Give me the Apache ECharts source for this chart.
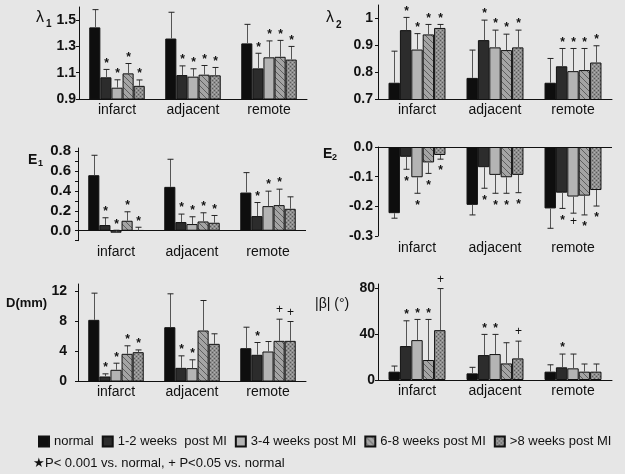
<!DOCTYPE html>
<html><head><meta charset="utf-8">
<script src="https://cdn.jsdelivr.net/npm/echarts@6/dist/echarts.min.js"></script>
<style>html,body{margin:0;padding:0;background:#e6e6e6}#c{width:625px;height:474px}</style>
</head><body><div id="c"></div><script>
// ---------- data ----------
const categories = ['infarct', 'adjacent', 'remote'];
const seriesNames = ['normal', '1-2 weeks  post MI', '3-4 weeks post MI', '6-8 weeks post MI', '>8 weeks post MI'];

// rows: series (normal, 1-2, 3-4, 6-8, >8); columns: infarct, adjacent, remote
const lambda1Mean = [[1.445, 1.36, 1.323], [1.065, 1.082, 1.133], [0.986, 1.07, 1.217], [1.095, 1.085, 1.221], [1.0, 1.08, 1.2]];
const lambda1SD   = [[0.135, 0.2, 0.145], [0.06, 0.07, 0.115], [0.06, 0.06, 0.125], [0.075, 0.07, 0.125], [0.045, 0.06, 0.1]];
const lambda1Sig  = [['*', '*', '*'], ['*', '*', '*'], ['*', '*', '*'], ['*', '*', '*']];
const lambda1Ticks = ['0.9', '1.1', '1.3', '1.5'];

const lambda2Mean = [[0.762, 0.78, 0.762], [0.957, 0.92, 0.823], [0.885, 0.893, 0.805], [0.941, 0.883, 0.809], [0.965, 0.893, 0.837]];
const lambda2SD   = [[0.117, 0.103, 0.09], [0.047, 0.074, 0.066], [0.059, 0.064, 0.084], [0.037, 0.059, 0.08], [0.013, 0.064, 0.062]];
const lambda2Sig  = [['*', '*', '*'], ['*', '*', '*'], ['*', '*', '*'], ['*', '*', '*']];
const lambda2Ticks = ['0.7', '0.8', '0.9', '1'];

const e1Mean = [[0.557, 0.44, 0.383], [0.057, 0.087, 0.147], [-0.02, 0.067, 0.247], [0.1, 0.093, 0.257], [0.005, 0.08, 0.22]];
const e1SD   = [[0.2, 0.277, 0.2], [0.073, 0.08, 0.136], [0.025, 0.073, 0.15], [0.09, 0.087, 0.16], [0.03, 0.073, 0.12]];
const e1Sig  = [['*', '*', '*'], ['*', '*', '*'], ['*', '*', '*'], ['*', '*', '']];
const e1Ticks = ['0.0', '0.2', '0.4', '0.6', '0.8'];

const e2Mean = [[-0.223, -0.195, -0.207], [-0.033, -0.068, -0.154], [-0.102, -0.094, -0.167], [-0.052, -0.102, -0.164], [-0.027, -0.094, -0.145]];
const e2SD   = [[0.017, 0.034, 0.067], [0.042, 0.071, 0.053], [0.054, 0.062, 0.056], [0.037, 0.054, 0.065], [0.014, 0.06, 0.054]];
const e2Sig  = [['*', '*', '*'], ['*', '*', '+'], ['*', '*', '*'], ['*', '*', '*']];
const e2Ticks = ['-0.3', '-0.2', '-0.1', '0.0'];

const dMean = [[8.22, 7.24, 4.44], [0.67, 1.82, 3.56], [1.56, 1.78, 4.0], [3.69, 6.8, 5.42], [3.91, 5.02, 5.42]];
const dSD   = [[3.56, 4.45, 2.8], [0.35, 1.6, 1.64], [0.88, 1.11, 1.33], [1.07, 4.0, 2.89], [0.3, 1.34, 2.58]];
const dSig  = [['*', '*', '*'], ['*', '*', ''], ['*', '', '+'], ['*', '', '+']];
const dTicks = ['0', '4', '8', '12'];

const betaMean = [[7.3, 5.8, 7.3], [29.7, 21.8, 11.1], [34.9, 22.7, 10.2], [17.5, 14.5, 7.3], [43.6, 18.9, 7.3]];
const betaSD   = [[4.9, 5.3, 6.0], [22.1, 18.1, 11.6], [18.1, 17.2, 12.5], [35.5, 18.1, 6.7], [36.4, 15.1, 6.7]];
const betaSig  = [['*', '*', '*'], ['*', '*', ''], ['*', '', ''], ['+', '+', '']];
const betaTicks = ['0', '40', '80'];

// ---------- styling / layout ----------
const FONT = 'Liberation Sans, Arial, sans-serif';
const CAT_GAP = 0.27;

function makeHatch() {
  const c = document.createElement('canvas'); c.width = 6; c.height = 6;
  const g = c.getContext('2d');
  g.fillStyle = '#a4a4a4'; g.fillRect(0, 0, 6, 6);
  g.strokeStyle = '#5e5e5e'; g.lineWidth = 1;
  g.beginPath();
  g.moveTo(0, 0); g.lineTo(6, 6);
  g.moveTo(-3, 3); g.lineTo(3, 9);
  g.moveTo(3, -3); g.lineTo(9, 3);
  g.stroke();
  return c;
}
function makeDots() {
  const c = document.createElement('canvas'); c.width = 4; c.height = 4;
  const g = c.getContext('2d');
  g.fillStyle = '#8e8e8e'; g.fillRect(0, 0, 4, 4);
  g.fillStyle = '#5a5a5a'; g.fillRect(0, 0, 1, 1); g.fillRect(2, 2, 1, 1);
  g.fillStyle = '#b0b0b0'; g.fillRect(2, 0, 1, 1); g.fillRect(0, 2, 1, 1);
  return c;
}
const fills = ['#0e0e0e', '#2c2c2c', '#b4b4b4',
  { image: makeHatch(), repeat: 'repeat' },
  { image: makeDots(), repeat: 'repeat' }];

const panels = [
  { mean: lambda1Mean, sd: lambda1SD, sig: lambda1Sig, ticks: lambda1Ticks, dir: 1, grid: { left: 79, top: 7, width: 228, height: 92 }, min: 0.9, max: 1.6, interval: 0.2, zeroLine: false, labelMargin: 4, yMargin: 3, yFont: 14 },
  { mean: lambda2Mean, sd: lambda2SD, sig: lambda2Sig, ticks: lambda2Ticks, dir: 1, grid: { left: 378, top: 5, width: 234, height: 94.5 }, min: 0.7, max: 1.05, interval: 0.1, zeroLine: false, labelMargin: 4, yMargin: 5, yFont: 14 },
  { mean: e1Mean, sd: e1SD, sig: e1Sig, ticks: e1Ticks, dir: 1, grid: { left: 78, top: 148, width: 228, height: 92.7 }, min: -0.1, max: 0.83, interval: 0.1, zeroLine: true, labelMargin: 4, yMargin: 7, yFont: 15 },
  { mean: e2Mean, sd: e2SD, sig: e2Sig, ticks: e2Ticks, dir: -1, grid: { left: 378, top: 147, width: 234, height: 89 }, min: -0.3, max: 0, interval: 0.1, zeroLine: true, labelMargin: 5, yMargin: 5, yFont: 14 },
  { mean: dMean, sd: dSD, sig: dSig, ticks: dTicks, dir: 1, grid: { left: 78, top: 284, width: 228, height: 97.5 }, min: 0, max: 13, interval: 4, zeroLine: false, labelMargin: 4, yMargin: 11, yFont: 14 },
  { mean: betaMean, sd: betaSD, sig: betaSig, ticks: betaTicks, dir: 1, grid: { left: 378, top: 284, width: 234, height: 96 }, min: 0, max: 84, interval: 40, zeroLine: false, labelMargin: 4, yMargin: 3, yFont: 14 }
];

function fmt(v, ticks) {
  const cands = [String(Math.round(v)), (Math.round(v * 10) / 10).toFixed(1), String(Math.round(v * 10) / 10)];
  for (const c of cands) if (ticks.indexOf(c) >= 0 && Math.abs(parseFloat(c) - v) < 1e-6) return c;
  return '';
}

const grids = [], xAxes = [], yAxes = [], series = [];
panels.forEach((p, pi) => {
  grids.push(Object.assign({ containLabel: false }, p.grid));
  xAxes.push({
    type: 'category', gridIndex: pi, data: categories,
    axisLine: { show: !p.zeroLine, onZero: false, lineStyle: { color: '#111', width: 1 } },
    axisTick: { show: false },
    axisLabel: { margin: p.labelMargin, fontSize: 14, fontFamily: FONT, color: '#111' }
  });
  yAxes.push({
    type: 'value', gridIndex: pi, min: p.min, max: p.max, interval: p.interval,
    splitLine: { show: false },
    axisLine: { show: true, lineStyle: { color: '#111', width: 1 } },
    axisTick: { show: true, length: 3, lineStyle: { color: '#111' } },
    axisLabel: { margin: p.yMargin, fontSize: p.yFont, fontWeight: 'bold', fontFamily: FONT, color: '#111',
      showMaxLabel: fmt(p.max, p.ticks) !== '',
      formatter: (v) => fmt(v, p.ticks) }
  });
  p.mean.forEach((vals, s) => {
    const ser = {
      type: 'bar', name: seriesNames[s], xAxisIndex: pi, yAxisIndex: pi,
      data: vals, barGap: '0%', barCategoryGap: (CAT_GAP * 100) + '%',
      itemStyle: { color: fills[s], borderColor: '#111', borderWidth: 1 },
      silent: true, animation: false
    };
    if (s === 0 && p.zeroLine) {
      ser.markLine = { silent: true, symbol: ['none', 'none'], label: { show: false },
        lineStyle: { color: '#111', width: 1, type: 'solid' }, data: [{ yAxis: 0 }], animation: false };
    }
    series.push(ser);
  });
  const items = [];
  p.mean.forEach((vals, s) => vals.forEach((m, c) => {
    const sg = s === 0 ? '' : p.sig[s - 1][c];
    items.push([c, m, m + p.dir * p.sd[s][c], s, sg === '*' ? 1 : (sg === '+' ? 2 : 0)]);
  }));
  series.push({
    type: 'custom', xAxisIndex: pi, yAxisIndex: pi, data: items, silent: true, animation: false, z: 5,
    renderItem: (params, api) => {
      const c = api.value(0), m = api.value(1), e = api.value(2), s = api.value(3), g = api.value(4);
      const p0 = api.coord([c, m]), p1 = api.coord([c, e]);
      const band = api.size([1, 0])[0];
      const gw = band * (1 - CAT_GAP), bw = gw / 5;
      const x = Math.round(p0[0] - gw / 2 + bw * (s + 0.5)) + 0.5;
      const ch = [
        { type: 'line', shape: { x1: x, y1: p0[1], x2: x, y2: p1[1] }, style: { stroke: '#555', lineWidth: 1 } },
        { type: 'line', shape: { x1: x - 3, y1: p1[1], x2: x + 3, y2: p1[1] }, style: { stroke: '#222', lineWidth: 1 } }
      ];
      if (g) {
        const up = p.dir > 0;
        const cy = up ? p1[1] - 9 : p1[1] + 9;
        ch.push({ type: 'text', style: { text: g === 1 ? '*' : '+', x: x, y: cy + (g === 1 ? 3 : 0),
          align: 'center', verticalAlign: 'middle', font: (g === 1 ? 'bold 12px ' : '12px ') + FONT, fill: '#111' } });
      }
      return { type: 'group', children: ch };
    }
  });
});

const txt = (x, y, t, font) => ({ type: 'text', x: x, y: y, silent: true,
  style: { text: t, font: font, fill: '#111', verticalAlign: 'middle', align: 'left' } });

const chart = echarts.init(document.getElementById('c'), null, { renderer: 'canvas' });
chart.setOption({
  backgroundColor: '#e6e6e6',
  animation: false,
  grid: grids, xAxis: xAxes, yAxis: yAxes, series: series,
  legend: {
    data: seriesNames, left: 33, top: 430, itemWidth: 10, itemHeight: 10, itemGap: 8,
    icon: 'rect', selectedMode: false,
    textStyle: { fontSize: 13, fontFamily: FONT, color: '#111' }
  },
  graphic: [
    txt(36, 18, 'λ', '16px ' + FONT), txt(46, 24, '1', 'bold 10px ' + FONT),
    txt(326, 18, 'λ', '16px ' + FONT), txt(336, 25, '2', 'bold 10px ' + FONT),
    txt(28, 160, 'E', 'bold 14px ' + FONT), txt(38, 164, '1', 'bold 9px ' + FONT),
    txt(323, 154, 'E', 'bold 14px ' + FONT), txt(332, 158, '2', 'bold 9px ' + FONT),
    txt(6, 303, 'D(mm)', 'bold 13px ' + FONT),
    txt(315, 304, '|β| (°)', '14px ' + FONT),
    txt(33, 463, '★P< 0.001 vs. normal, + P<0.05 vs. normal', '13px ' + FONT)
  ]
});
</script></body></html>
